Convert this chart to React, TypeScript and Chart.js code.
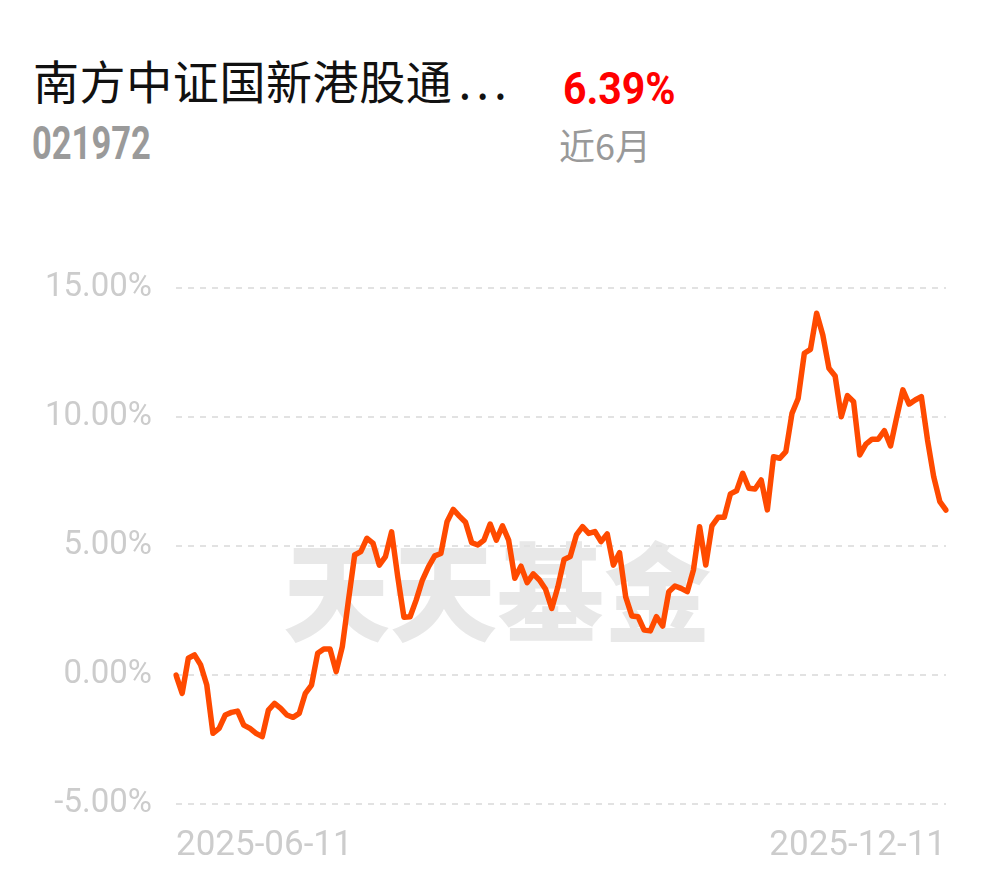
import React, { useEffect, useRef } from "react";
import { Chart, registerables } from "chart.js";

Chart.register(...registerables);

// Cumulative return (%) over the last 6 months, one value per trading day
const returnValues: number[] = [
  0.0, -0.71, 0.65, 0.78, 0.39, -0.39, -2.26, -2.07, -1.55, -1.45,
  -1.4, -1.94, -2.07, -2.26, -2.39, -1.36, -1.1, -1.29, -1.55, -1.64,
  -1.49, -0.71, -0.39, 0.84, 1.01, 1.01, 0.13, 1.1, 2.9, 4.65,
  4.78, 5.3, 5.1, 4.26, 4.59, 5.55, 3.8, 2.24, 2.26, 2.91,
  3.68, 4.2, 4.62, 4.71, 5.94, 6.42, 6.16, 5.92, 5.13, 5.04,
  5.23, 5.85, 5.23, 5.78, 5.23, 3.75, 4.22, 3.58, 3.92, 3.68,
  3.32, 2.58, 3.42, 4.48, 4.59, 5.43, 5.75, 5.49, 5.56, 5.17,
  5.47, 4.26, 4.74, 3.03, 2.29, 2.26, 1.74, 1.71, 2.26, 1.9,
  3.23, 3.45, 3.36, 3.23, 4.07, 5.75, 4.26, 5.78, 6.11, 6.11,
  7.02, 7.14, 7.82, 7.24, 7.21, 7.56, 6.4, 8.46, 8.4, 8.66,
  10.14, 10.72, 12.47, 12.62, 14.02, 13.18, 11.89, 11.59, 10.01, 10.83,
  10.59, 8.53, 8.95, 9.14, 9.14, 9.47, 8.88, 9.99, 11.05, 10.5,
  10.66, 10.79, 9.11, 7.69, 6.72, 6.39,
];

const xTickLabels: string[] = ["2025-06-11", "2025-12-11"];
const yTickValues: number[] = [-5, 0, 5, 10, 15];

const fundName = "南方中证国新港股通";
const fundNameEllipsis = "...";
const fundCode = "021972";
const periodReturn = "6.39%";
const periodLabel = "近6月";
const watermark = "天天基金";

export default function App() {
  const canvasRef = useRef<HTMLCanvasElement | null>(null);

  useEffect(() => {
    const canvas = canvasRef.current;
    if (!canvas) return;
    const lastIndex = returnValues.length - 1;
    const labels = returnValues.map((_, i) =>
      i === 0 ? xTickLabels[0] : i === lastIndex ? xTickLabels[1] : ""
    );
    const chart = new Chart(canvas, {
      type: "line",
      data: {
        labels,
        datasets: [
          {
            data: returnValues,
            borderColor: "#ff4a00",
            borderWidth: 5.5,
            pointRadius: 0,
            tension: 0,
            fill: false,
            borderJoinStyle: "round",
            borderCapStyle: "round",
          },
        ],
      },
      options: {
        animation: false,
        responsive: false,
        maintainAspectRatio: false,
        layout: { padding: { top: 48, right: 44, bottom: 0, left: 0 } },
        plugins: { legend: { display: false }, tooltip: { enabled: false } },
        scales: {
          x: {
            grid: { display: false, drawTicks: false },
            border: { display: false },
            afterFit: (scale: any) => {
              scale.height = 74;
            },
            afterBuildTicks: (scale: any) => {
              const t = scale.ticks;
              scale.ticks = [t[0], t[t.length - 1]];
            },
            ticks: {
              autoSkip: false,
              maxRotation: 0,
              minRotation: 0,
              align: "inner",
              padding: 21,
              color: "#cccccc",
              font: { family: "Roboto", size: 35 },
            },
          },
          y: {
            min: -5,
            max: 15,
            afterFit: (scale: any) => {
              scale.width = 176;
            },
            afterBuildTicks: (scale: any) => {
              scale.ticks = yTickValues.map((v) => ({ value: v }));
            },
            grid: {
              color: "#e2e2e2",
              lineWidth: 2,
              drawTicks: false,
            },
            border: { display: false, dash: [6, 6] },
            ticks: {
              padding: 24,
              color: "#cccccc",
              font: { family: "Roboto", size: 33 },
              callback: (v: any) => Number(v).toFixed(2) + "%",
            },
          },
        },
      },
    } as any);
    return () => chart.destroy();
  }, []);

  const cjk = '"Noto Sans CJK SC", "Noto Sans", sans-serif';

  return (
    <div
      style={{
        position: "absolute",
        left: 0,
        top: 0,
        width: 990,
        height: 878,
        background: "#ffffff",
        overflow: "hidden",
      }}
    >
      <div
        style={{
          position: "absolute",
          left: 33,
          top: 56,
          fontFamily: cjk,
          fontSize: 46,
          lineHeight: "46px",
          letterSpacing: "0.6px",
          color: "#111111",
          whiteSpace: "nowrap",
        }}
      >
        {fundName}
        <span style={{ letterSpacing: "5px", marginLeft: 6 }}>{fundNameEllipsis}</span>
      </div>
      <div
        style={{
          position: "absolute",
          left: 32,
          top: 120,
          fontFamily: "Roboto",
          fontWeight: 700,
          fontSize: 46,
          lineHeight: "46px",
          color: "#9a9a9a",
          transform: "scaleX(0.75)",
          transformOrigin: "left top",
          whiteSpace: "nowrap",
        }}
      >
        {fundCode}
      </div>
      <div
        style={{
          position: "absolute",
          left: 563,
          top: 66,
          fontFamily: "Roboto",
          fontWeight: 700,
          fontSize: 45,
          lineHeight: "45px",
          color: "#ff0000",
          transform: "scaleX(0.91)",
          transformOrigin: "left top",
          whiteSpace: "nowrap",
        }}
      >
        {periodReturn}
      </div>
      <div
        style={{
          position: "absolute",
          left: 559,
          top: 126,
          fontFamily: cjk,
          fontSize: 36,
          lineHeight: "36px",
          color: "#999999",
          whiteSpace: "nowrap",
        }}
      >
        {periodLabel}
      </div>
      <div
        style={{
          position: "absolute",
          left: 283,
          top: 533,
          fontFamily: cjk,
          fontWeight: 900,
          fontSize: 107,
          lineHeight: "107px",
          color: "#e8e8e8",
          whiteSpace: "nowrap",
        }}
      >
        {watermark}
      </div>
      <canvas
        ref={canvasRef}
        width={990}
        height={638}
        style={{
          position: "absolute",
          left: 0,
          top: 240,
          width: 990,
          height: 638,
        }}
      />
    </div>
  );
}
